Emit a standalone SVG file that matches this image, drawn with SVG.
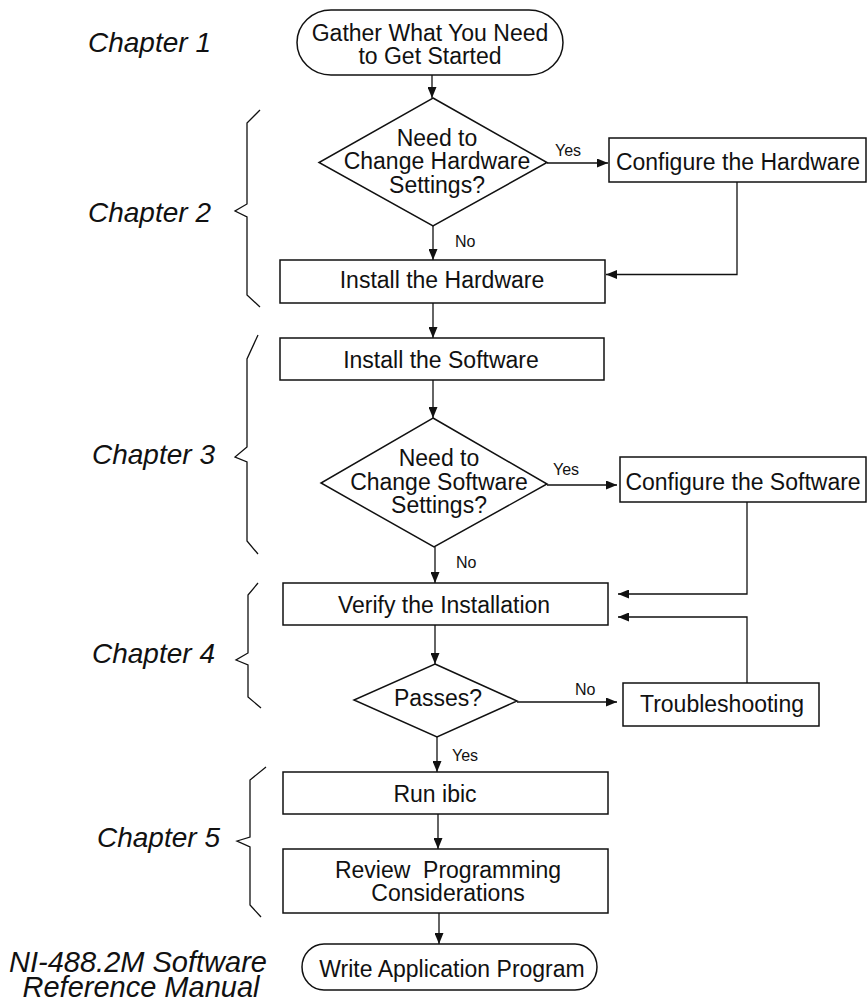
<svg xmlns="http://www.w3.org/2000/svg" width="868" height="1005" viewBox="0 0 868 1005">
<defs>
<style>
.n{fill:#fff;stroke:#111;stroke-width:1.5}
.c{fill:none;stroke:#111;stroke-width:1.3}
.b{fill:none;stroke:#111;stroke-width:1.3;stroke-linejoin:miter}
.t{font-family:"Liberation Sans",Arial,Helvetica,sans-serif;font-size:23px;fill:#111;text-anchor:middle}
.l{font-family:"Liberation Sans",Arial,Helvetica,sans-serif;font-size:16px;fill:#111}
.ch{font-family:"Liberation Sans",Arial,Helvetica,sans-serif;font-size:28px;font-style:italic;fill:#111}
.ref{font-family:"Liberation Sans",Arial,Helvetica,sans-serif;font-size:29px;font-style:italic;fill:#111;text-anchor:middle}
</style>
<marker id="ah" markerUnits="userSpaceOnUse" markerWidth="11" markerHeight="9" refX="11" refY="4.5" orient="auto">
<path d="M0,0 L11,4.5 L0,9 z" fill="#111"/>
</marker>
</defs>
<rect width="868" height="1005" fill="#fff"/>

<g id="chapters">
<text class="ch" x="88" y="52">Chapter 1</text>
<text class="ch" x="88" y="222">Chapter 2</text>
<text class="ch" x="92" y="464">Chapter 3</text>
<text class="ch" x="92" y="663">Chapter 4</text>
<text class="ch" x="97" y="847">Chapter 5</text>
<text class="ref" x="138" y="972">NI-488.2M Software</text>
<text class="ref" x="141" y="997">Reference Manual</text>
</g>

<g id="braces">
<path class="b" d="M260,110 L247,123 L247,204 L235,211 L247,217 L247,295 L260,307"/>
<path class="b" d="M258,335 L247,359 L247,447 L235,457 L247,462 L247,541 L258,554"/>
<path class="b" d="M258,583 L248,595 L248,653 L236,660 L248,665 L248,697 L261,708"/>
<path class="b" d="M266,767 L250,780 L250,837 L237,841 L250,847 L250,905 L261,917"/>
</g>

<g id="connectors">
<line class="c" x1="432" y1="75" x2="432" y2="98" marker-end="url(#ah)"/>
<line class="c" x1="547" y1="163" x2="608" y2="163" marker-end="url(#ah)"/>
<line class="c" x1="433" y1="226" x2="433" y2="260" marker-end="url(#ah)"/>
<polyline class="c" points="737,182 737,274.5 606,274.5" marker-end="url(#ah)"/>
<line class="c" x1="433" y1="303" x2="433" y2="338" marker-end="url(#ah)"/>
<line class="c" x1="433" y1="380" x2="433" y2="418" marker-end="url(#ah)"/>
<line class="c" x1="547" y1="485" x2="617" y2="485" marker-end="url(#ah)"/>
<line class="c" x1="435" y1="547" x2="435" y2="583" marker-end="url(#ah)"/>
<polyline class="c" points="747,502 747,594 618,594" marker-end="url(#ah)"/>
<polyline class="c" points="747,683 747,617 618,617" marker-end="url(#ah)"/>
<line class="c" x1="435" y1="625" x2="435" y2="664" marker-end="url(#ah)"/>
<line class="c" x1="517" y1="702" x2="617" y2="702" marker-end="url(#ah)"/>
<line class="c" x1="437" y1="737" x2="437" y2="772" marker-end="url(#ah)"/>
<line class="c" x1="438" y1="814" x2="438" y2="849" marker-end="url(#ah)"/>
<line class="c" x1="439" y1="913" x2="439" y2="944" marker-end="url(#ah)"/>
<text class="l" x="555" y="156">Yes</text>
<text class="l" x="455" y="247">No</text>
<text class="l" x="553" y="475">Yes</text>
<text class="l" x="456" y="568">No</text>
<text class="l" x="575" y="695">No</text>
<text class="l" x="452" y="761">Yes</text>
</g>

<g id="start">
<rect class="n" x="297" y="10" width="266" height="65" rx="34" ry="32.5"/>
<text class="t" x="430" y="41">Gather What You Need</text>
<text class="t" x="430" y="64">to Get Started</text>
</g>

<g id="hw-decision">
<polygon class="n" points="433,98 547,162.5 433,226 319,162.5"/>
<text class="t" x="437" y="146">Need to</text>
<text class="t" x="437" y="169">Change Hardware</text>
<text class="t" x="437" y="193">Settings?</text>
</g>

<g id="configure-hw">
<rect class="n" x="609" y="138" width="257" height="44"/>
<text class="t" x="738" y="170">Configure the Hardware</text>
</g>

<g id="install-hw">
<rect class="n" x="280" y="260" width="325" height="43"/>
<text class="t" x="442" y="288">Install the Hardware</text>
</g>

<g id="install-sw">
<rect class="n" x="280" y="338" width="324" height="42"/>
<text class="t" x="441" y="368">Install the Software</text>
</g>

<g id="sw-decision">
<polygon class="n" points="433,418 547,484 434,547 321,483"/>
<text class="t" x="439" y="466">Need to</text>
<text class="t" x="439" y="490">Change Software</text>
<text class="t" x="439" y="513">Settings?</text>
</g>

<g id="configure-sw">
<rect class="n" x="620" y="457" width="246" height="45"/>
<text class="t" x="743" y="490">Configure the Software</text>
</g>

<g id="verify">
<rect class="n" x="283" y="583" width="325" height="42"/>
<text class="t" x="444" y="613">Verify the Installation</text>
</g>

<g id="passes">
<polygon class="n" points="435,664 517,701 437,737 354,700"/>
<text class="t" x="438" y="706">Passes?</text>
</g>

<g id="troubleshooting">
<rect class="n" x="623" y="683" width="196" height="43"/>
<text class="t" x="722" y="712">Troubleshooting</text>
</g>

<g id="run-ibic">
<rect class="n" x="283" y="772" width="325" height="42"/>
<text class="t" x="435" y="802">Run ibic</text>
</g>

<g id="review">
<rect class="n" x="283" y="849" width="325" height="64"/>
<text class="t" x="448" y="878" xml:space="preserve">Review  Programming</text>
<text class="t" x="448" y="901">Considerations</text>
</g>

<g id="end">
<rect class="n" x="302" y="944" width="295" height="46" rx="22" ry="23"/>
<text class="t" x="452" y="977">Write Application Program</text>
</g>
</svg>
